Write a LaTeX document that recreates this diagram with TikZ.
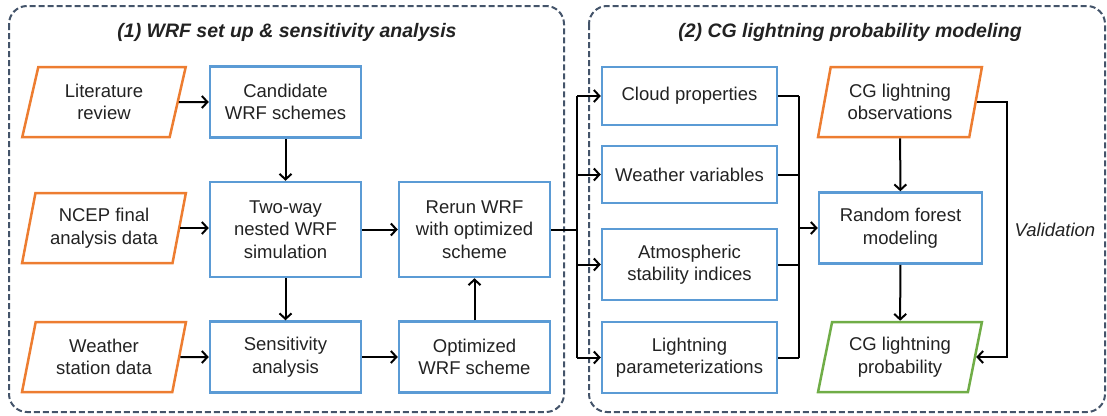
\documentclass[tikz,border=0pt]{standalone}
\usepackage{fontspec}
\setmainfont{Liberation Sans}
\usetikzlibrary{arrows.meta,shapes.geometric}
\definecolor{procblue}{HTML}{5B9BD5}
\definecolor{dataorange}{HTML}{ED7D31}
\definecolor{outgreen}{HTML}{70AD47}
\definecolor{panelgray}{HTML}{44546A}
\definecolor{txt}{HTML}{222222}
\newcommand{\bodyfont}{\fontsize{18.5}{22.5}\selectfont}
\newcommand{\titlefont}{\fontsize{19.5}{23}\selectfont}
\tikzset{
  panel/.style={draw=panelgray, line width=2pt, dash pattern=on 6pt off 3pt, rounded corners=18pt},
  paneltitle/.style={font=\titlefont\bfseries\itshape, text=txt},
  proc/.style={draw=procblue, line width=2.5pt, align=center, inner sep=2pt,
    font=\bodyfont, text=txt, minimum width=151pt, minimum height=71pt},
  datanode/.style={trapezium, trapezium left angle=75.6, trapezium right angle=104.4,
    trapezium stretches=true, draw=#1, line width=2.5pt, align=center, inner sep=1pt,
    font=\bodyfont, text=txt, minimum width=164pt, minimum height=70pt},
  arr/.style={line width=2pt, -{Straight Barb[length=5.5pt,width=12pt,line width=2pt]}},
  link/.style={line width=2pt},
}
\begin{document}
\begin{tikzpicture}[x=1pt,y=-1pt]
\useasboundingbox (0,0) rectangle (1107,415);

% panels
\draw[panel] (9,6) rectangle (564,412);
\draw[panel] (589,6) rectangle (1105,412);
\node[paneltitle] (t1) at (287,32) {(1) WRF set up \& sensitivity analysis};
\node[paneltitle] (t2) at (850,32) {(2) CG lightning probability modeling};

% (1) WRF set up
\node[datanode=dataorange] (lit)  at (104,102) {Literature\\review};
\node[datanode=dataorange] (ncep) at (104,228) {NCEP final\\analysis data};
\node[datanode=dataorange] (wsd)  at (104,357) {Weather\\station data};
\node[proc] (cand) at (285.5,102) {Candidate\\WRF schemes};
\node[proc, minimum height=95pt] (two) at (285.5,229.5) {Two-way\\nested WRF\\simulation};
\node[proc] (sens) at (285.5,357) {Sensitivity\\analysis};
\node[proc, minimum height=95pt] (rerun) at (474.5,229.5) {Rerun WRF\\with optimized\\scheme};
\node[proc] (opt) at (474.5,357) {Optimized\\WRF scheme};

\draw[arr] (lit) -- (cand);
\draw[arr] (cand) -- (two);
\draw[arr] (ncep.east) -- (ncep.east -| two.west);
\draw[arr] (two) -- (sens);
\draw[arr] (wsd) -- (sens);
\draw[arr] (two) -- (rerun);
\draw[arr] (sens) -- (opt);
\draw[arr] (opt) -- (rerun);

% (2) CG lightning probability modeling
\node[proc, minimum width=175pt, minimum height=58pt] (cloud) at (689.5,96) {Cloud properties};
\node[proc, minimum width=175pt, minimum height=57pt] (wvar) at (689.5,174.5) {Weather variables};
\node[proc, minimum width=175pt] (atm) at (689.5,264.5) {Atmospheric\\stability indices};
\node[proc, minimum width=175pt] (lpar) at (689.5,357.5) {Lightning\\parameterizations};
\node[datanode=dataorange] (obs) at (900,102) {CG lightning\\observations};
\node[proc, minimum width=163pt] (rf) at (900.5,228) {Random forest\\modeling};
\node[datanode=outgreen] (prob) at (900,357) {CG lightning\\probability};
\node[font=\bodyfont\itshape, text=txt] (val) at (1055,230) {Validation};

% distribution bus
\coordinate (busL) at (577,0);
\draw[link] (rerun.east) -- (rerun.east -| busL);
\draw[link] (busL |- cloud.west) -- (busL |- lpar.west);
\draw[arr] (busL |- cloud.west) -- (cloud.west);
\draw[arr] (busL |- wvar.west) -- (wvar.west);
\draw[arr] (busL |- atm.west) -- (atm.west);
\draw[arr] (busL |- lpar.west) -- (lpar.west);

% merging bus
\coordinate (busR) at (799,0);
\draw[link] (cloud.east) -- (cloud.east -| busR);
\draw[link] (wvar.east) -- (wvar.east -| busR);
\draw[link] (atm.east) -- (atm.east -| busR);
\draw[link] (lpar.east) -- (lpar.east -| busR);
\draw[link] (busR |- cloud.east) -- (busR |- lpar.east);
\draw[arr] (busR |- rf.west) -- (rf.west);

\draw[arr] (obs) -- (rf);
\draw[arr] (rf) -- (prob);

% validation loop
\coordinate (vx) at (1007,0);
\draw[arr] (obs.east) -- (obs.east -| vx) -- (vx |- prob.east) -- (prob.east);
\end{tikzpicture}
\end{document}
